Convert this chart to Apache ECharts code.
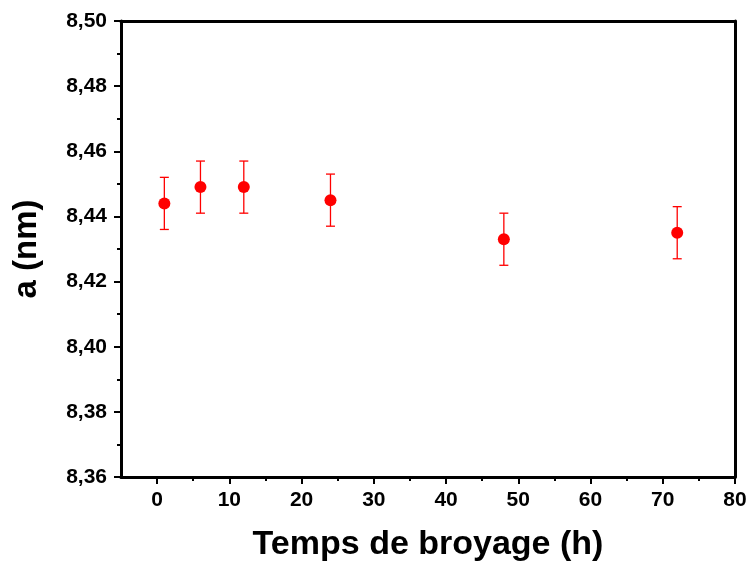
<!DOCTYPE html>
<html><head><meta charset="utf-8">
<script src="https://cdn.jsdelivr.net/npm/echarts@6/dist/echarts.min.js"></script>
<style>html,body{margin:0;padding:0;background:#fff}#c{width:750px;height:568px}</style>
</head><body><div id="c"></div>
<script>
var timeH = [1, 6, 12, 24, 48, 72];
var latticeA = [8.444, 8.449, 8.449, 8.445, 8.433, 8.435];
var errA = [0.008, 0.008, 0.008, 0.008, 0.008, 0.008];
var xMajorTicks = [0, 10, 20, 30, 40, 50, 60, 70, 80];
var xMinorTicks = [5, 15, 25, 35, 45, 55, 65, 75];
var yMajorTicks = [8.36, 8.38, 8.40, 8.42, 8.44, 8.46, 8.48, 8.50];
var yMinorTicks = [8.37, 8.39, 8.41, 8.43, 8.45, 8.47, 8.49];
var xTitle = 'Temps de broyage (h)';
var yTitle = 'a (nm)';

var FONT = 'Liberation Sans, Arial, sans-serif';
var lineStyle = {color: '#000', width: 3};
var pts = timeH.map(function (t, i) { return [t, latticeA[i]]; });
var errData = timeH.map(function (t, i) { return [t, latticeA[i] - errA[i], latticeA[i] + errA[i]]; });
var gridRect = {left: 121, right: 15, top: 21, bottom: 91};

var chart = echarts.init(document.getElementById('c'), null, {renderer: 'canvas'});
chart.setOption({
  animation: false,
  backgroundColor: '#fff',
  grid: [Object.assign({}, gridRect), Object.assign({}, gridRect)],
  xAxis: [
    {gridIndex: 0, type: 'value', min: -5, max: 80, position: 'bottom',
     name: xTitle, nameLocation: 'middle', nameGap: 51,
     nameTextStyle: {fontFamily: FONT, fontWeight: 'bold', fontSize: 34, color: '#000'},
     axisLine: {show: true, lineStyle: lineStyle, onZero: false},
     axisTick: {show: true, customValues: xMajorTicks, length: 7, inside: false, lineStyle: {color: '#000', width: 2}},
     axisLabel: {customValues: xMajorTicks, margin: 13, fontFamily: FONT, fontWeight: 'bold', fontSize: 21, color: '#000'},
     splitLine: {show: false}},
    {gridIndex: 0, type: 'value', min: -5, max: 80, position: 'top',
     axisLine: {show: true, lineStyle: lineStyle, onZero: false},
     axisTick: {show: false}, axisLabel: {show: false}, splitLine: {show: false}},
    {gridIndex: 1, type: 'value', min: -5, max: 80, position: 'bottom',
     axisLine: {show: false, onZero: false},
     axisTick: {show: true, customValues: xMinorTicks, length: 4, lineStyle: {color: '#000', width: 2}},
     axisLabel: {show: false}, splitLine: {show: false}}
  ],
  yAxis: [
    {gridIndex: 0, type: 'value', min: 8.36, max: 8.50, position: 'left',
     name: yTitle, nameLocation: 'middle', nameGap: 78, nameRotate: 90,
     nameTextStyle: {fontFamily: FONT, fontWeight: 'bold', fontSize: 33, color: '#000'},
     axisLine: {show: true, lineStyle: lineStyle, onZero: false},
     axisTick: {show: true, customValues: yMajorTicks, length: 7, lineStyle: {color: '#000', width: 2}},
     axisLabel: {customValues: yMajorTicks, margin: 14, fontFamily: FONT, fontWeight: 'bold', fontSize: 21, color: '#000',
       formatter: function (v) { return v.toFixed(2).replace('.', ','); }},
     splitLine: {show: false}},
    {gridIndex: 0, type: 'value', min: 8.36, max: 8.50, position: 'right',
     axisLine: {show: true, lineStyle: lineStyle, onZero: false},
     axisTick: {show: false}, axisLabel: {show: false}, splitLine: {show: false}},
    {gridIndex: 1, type: 'value', min: 8.36, max: 8.50, position: 'left',
     axisLine: {show: false, onZero: false},
     axisTick: {show: true, customValues: yMinorTicks, length: 4, lineStyle: {color: '#000', width: 2}},
     axisLabel: {show: false}, splitLine: {show: false}}
  ],
  series: [
    {type: 'custom', xAxisIndex: 0, yAxisIndex: 0, data: errData, z: 2,
     renderItem: function (params, api) {
       var lo = api.coord([api.value(0), api.value(1)]);
       var hi = api.coord([api.value(0), api.value(2)]);
       var w = 4.5;
       var st = {stroke: '#ff0000', lineWidth: 1.3};
       return {type: 'group', children: [
         {type: 'line', shape: {x1: lo[0], y1: lo[1], x2: hi[0], y2: hi[1]}, style: st},
         {type: 'line', shape: {x1: lo[0] - w, y1: lo[1], x2: lo[0] + w, y2: lo[1]}, style: st},
         {type: 'line', shape: {x1: hi[0] - w, y1: hi[1], x2: hi[0] + w, y2: hi[1]}, style: st}
       ]};
     }},
    {type: 'scatter', xAxisIndex: 0, yAxisIndex: 0, data: pts, symbol: 'circle', symbolSize: 12, z: 3,
     itemStyle: {color: '#ff0000', opacity: 1}}
  ]
});
</script>
</body></html>
